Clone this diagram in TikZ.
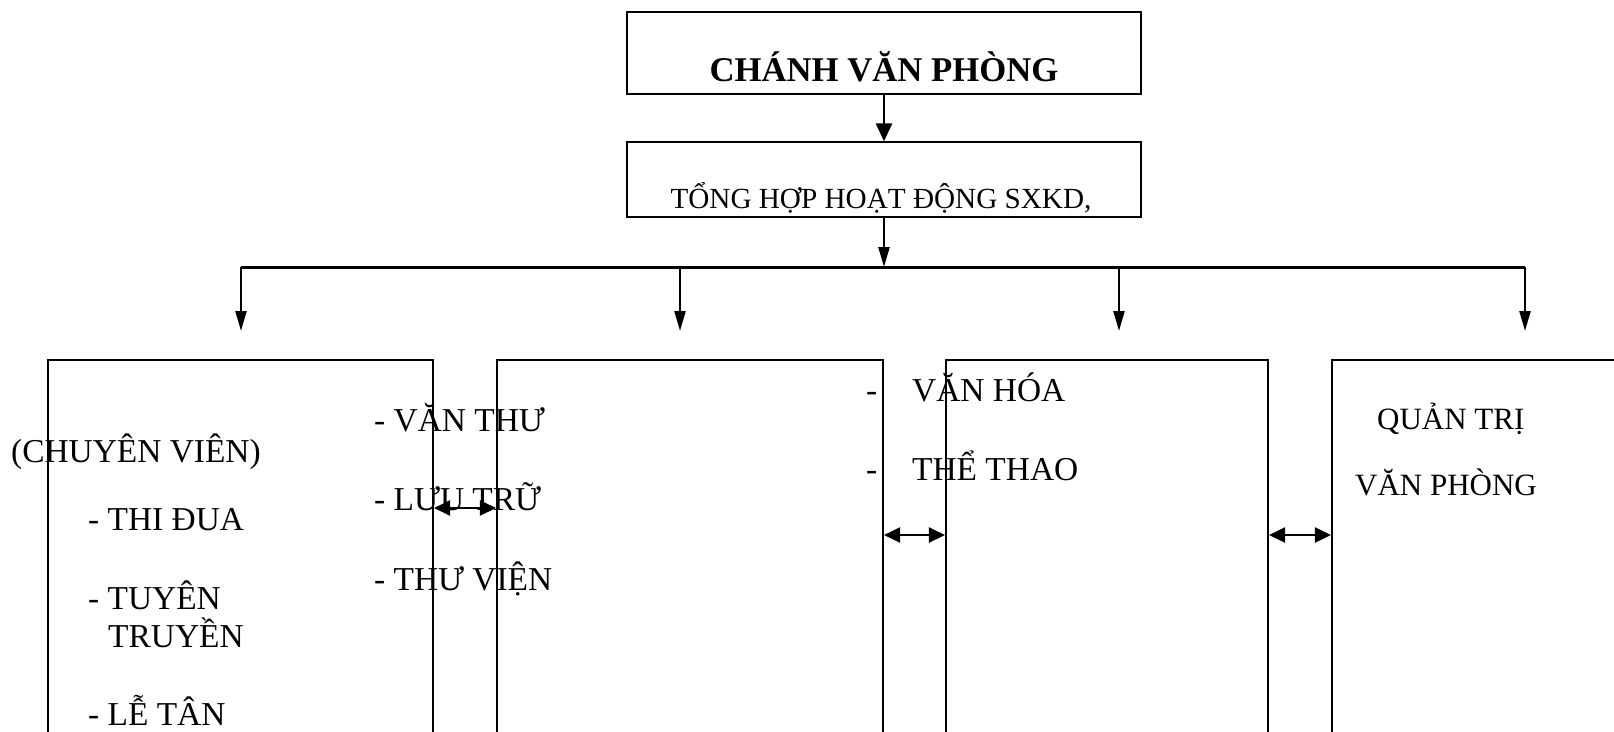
\documentclass[tikz,border=0pt]{standalone}
\usepackage{fontspec}
\setmainfont{Liberation Serif}
\usetikzlibrary{arrows.meta}
\tikzset{
  chiefbox/.style={draw, line width=2.6pt, minimum width=514pt, minimum height=82pt, inner sep=0pt},
  sumbox/.style={draw, line width=1.3pt, minimum width=514pt, minimum height=75pt, inner sep=0pt},
  unitbox/.style={draw, line width=2.1pt, minimum height=520pt, inner sep=0pt},
  txt/.style={anchor=base west, inner sep=0pt, font=\fontsize{33.4}{38}\selectfont},
  ctxt/.style={anchor=base, inner sep=0pt},
  bigarr/.style={line width=2.8pt, -{Triangle[length=18pt,width=16pt]}},
  downarr/.style={line width=2.4pt, -{Triangle[length=20pt,width=11pt]}},
  dblarr/.style={line width=2.4pt, {Triangle[length=16pt,width=15pt]}-{Triangle[length=16pt,width=15pt]}},
  busline/.style={line width=3pt}
}
\begin{document}
\begin{tikzpicture}[x=1pt,y=-1pt]
\useasboundingbox (0,0) rectangle (1614,731);
\clip (0,0) rectangle (1614,731);

% top boxes
\node[chiefbox] (chief) at (884,53) {};
\node[ctxt, font=\bfseries\fontsize{34.7}{38}\selectfont] (chiefT) at (884,81) {CHÁNH VĂN PHÒNG};
\node[sumbox] (sum) at (884,179.5) {};
\node[ctxt, font=\fontsize{29.2}{34}\selectfont] (sumT) at (881,208) {TỔNG HỢP HOẠT ĐỘNG SXKD,};

\draw[bigarr] (chief.south) -- (sum.north);

% bus
\coordinate (hub) at (884,267);
\coordinate (b1) at (241,267);
\coordinate (b2) at (680,267);
\coordinate (b3) at (1119,267);
\coordinate (b4) at (1525,267);
\coordinate (e1) at (241,331);
\coordinate (e2) at (680,331);
\coordinate (e3) at (1119,331);
\coordinate (e4) at (1525,331);
\draw[downarr] (sum.south) -- (hub);
\draw[busline] (b1) -- (b4);
\draw[downarr] (b1) -- (e1);
\draw[downarr] (b2) -- (e2);
\draw[downarr] (b3) -- (e3);
\draw[downarr] (b4) -- (e4);

% unit boxes (open at the bottom, cut by the page)
\node[unitbox, minimum width=385pt] (u1) at (240.5,620) {};
\node[unitbox, minimum width=386pt] (u2) at (690,620) {};
\node[unitbox, minimum width=322pt] (u3) at (1107,620) {};
\node[unitbox, minimum width=400pt] (u4) at (1532,620) {};

% double arrows
\coordinate (y1) at (0,508);
\coordinate (y2) at (0,535);
\draw[dblarr] (u1.east |- y1) -- (u2.west |- y1);
\draw[dblarr] (u2.east |- y2) -- (u3.west |- y2);
\draw[dblarr] (u3.east |- y2) -- (u4.west |- y2);

% texts
\node[txt] (cv) at (11,462) {(CHUYÊN VIÊN)};
\node[txt] (td) at (88,530) {- THI ĐUA};
\node[txt] (tt) at (88,609) {- TUYÊN};
\node[txt] (tt2) at (108,647) {TRUYỀN};
\node[txt] (lt) at (88,725) {- LỄ TÂN};

\node[txt] (vt) at (374,431) {- VĂN THƯ};
\node[txt] (lu) at (374,510) {- LƯU TRỮ};
\node[txt] (tv) at (374,590) {- THƯ VIỆN};

\node[txt] (d1) at (866,401) {-};
\node[txt] (vh) at (912,401) {VĂN HÓA};
\node[txt] (d2) at (866,480) {-};
\node[txt] (th) at (912,480) {THỂ THAO};

\node[txt, font=\fontsize{31}{36}\selectfont] (qt) at (1377,429) {QUẢN TRỊ};
\node[txt, font=\fontsize{31}{36}\selectfont] (vp) at (1355,495) {VĂN PHÒNG};
\end{tikzpicture}
\end{document}
